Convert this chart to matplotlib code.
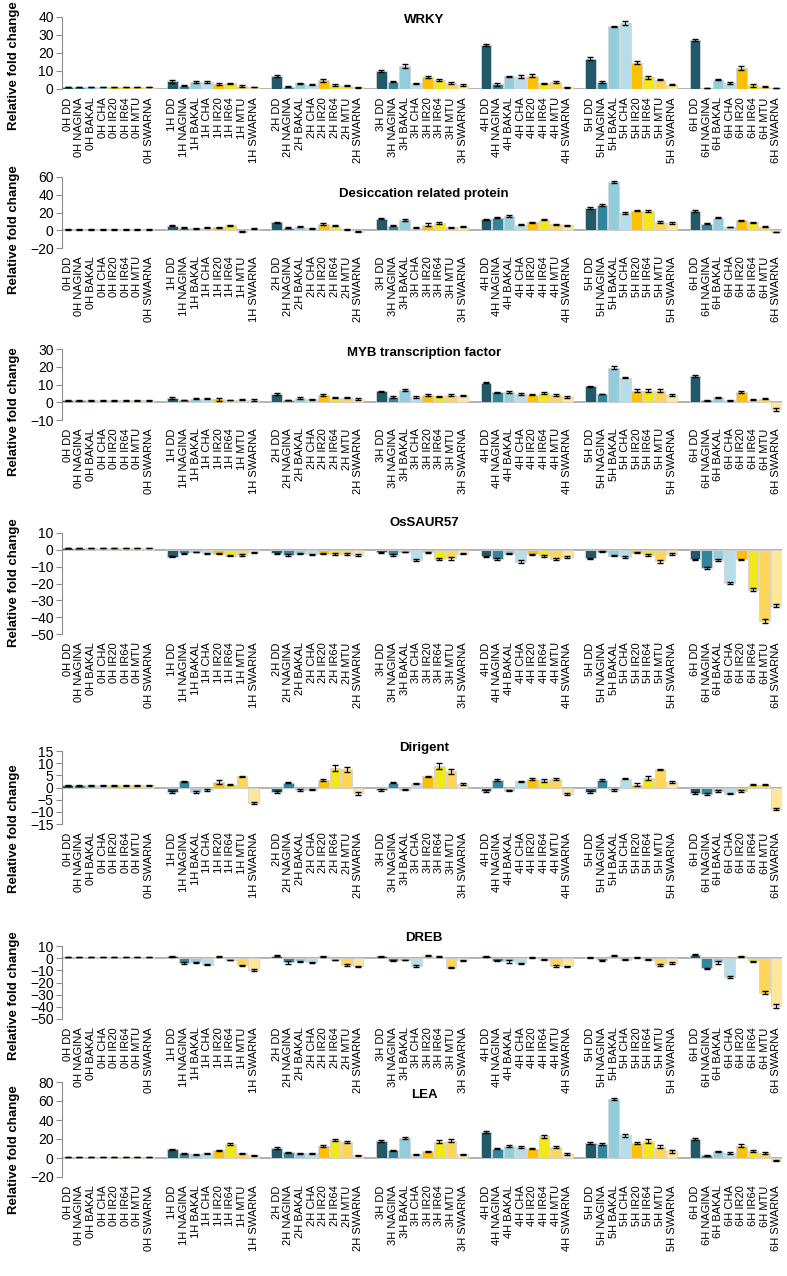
import numpy as np
import matplotlib
matplotlib.use("Agg")
import matplotlib.pyplot as plt

plt.rcParams['font.family'] = ['Liberation Sans', 'DejaVu Sans']

## categories
hours = ['0H', '1H', '2H', '3H', '4H', '5H', '6H']
lines = ['DD', 'NAGINA', 'BAKAL', 'CHA', 'IR20', 'IR64', 'MTU', 'SWARNA']
line_colors = ['#215968', '#31859c', '#92cddc', '#b7dee8',
               '#ffc000', '#f3e619', '#ffd557', '#ffe699']

## values, ordered 0H DD .. 0H SWARNA, 1H DD .. , 6H SWARNA
wrky = [1, 1, 1, 1, 1, 1, 1, 1,
        4.4, 1.9, 3.9, 3.9, 2.8, 3.3, 1.5, 1.1,
        7.2, 1.3, 3.1, 2.4, 4.8, 2.4, 1.9, 0.9,
        10, 4, 12.6, 3.2, 6.5, 5, 3.3, 2,
        24.3, 2.6, 7.2, 6.9, 7.4, 3.1, 4, 0.9,
        16.9, 3.9, 34.8, 36.7, 14.6, 6.5, 5.2, 2.4,
        27.2, 0.7, 5.2, 3.3, 11.7, 2, 1.3, 0.4]
wrky_err = [0.1, 0.1, 0.1, 0.1, 0.1, 0.1, 0.1, 0.1,
            0.8, 0.2, 0.3, 0.6, 0.8, 0.3, 0.6, 0.2,
            0.6, 0.2, 0.2, 0.4, 0.9, 0.6, 0.5, 0.2,
            0.8, 0.2, 1.2, 0.3, 0.5, 0.5, 0.4, 0.6,
            0.6, 0.7, 0.3, 0.9, 0.7, 0.3, 0.5, 0.1,
            0.8, 0.7, 0.3, 1.0, 0.8, 0.8, 0.4, 0.2,
            0.7, 0.1, 0.3, 0.5, 1.0, 0.8, 0.4, 0.1]

desic = [1, 1, 1, 1, 1, 1, 1, 1,
         5.2, 3, 2.2, 3, 3.4, 5.6, -1.5, 1.9,
         9, 3, 4, 2.2, 7, 5.2, 1.1, -1.5,
         13, 5.2, 11.6, 2.6, 6.4, 7.9, 3.4, 4.1,
         12.4, 13.9, 16.1, 6.4, 9, 12, 6.7, 5.6,
         25, 28.5, 54.3, 19.5, 22, 21.7, 9.4, 7.9,
         21.7, 7.5, 13.9, 3.7, 11.2, 9, 3.7, -2]
desic_err = [0.3, 0.3, 0.3, 0.3, 0.3, 0.3, 0.3, 0.3,
             0.8, 0.6, 0.6, 0.6, 0.8, 0.8, 0.5, 0.6,
             0.8, 0.6, 0.6, 0.6, 0.9, 0.8, 0.5, 0.5,
             0.8, 0.6, 0.8, 0.5, 1.5, 0.9, 0.6, 0.6,
             0.8, 0.6, 0.8, 0.6, 0.8, 0.8, 0.9, 0.6,
             1.5, 0.8, 1.5, 0.8, 0.8, 1.5, 0.8, 1.2,
             0.8, 0.6, 0.6, 0.5, 0.8, 0.8, 0.6, 0.4]

myb = [1, 1, 1, 1, 1, 1, 1, 1,
       2.3, 1.3, 1.9, 1.9, 1.7, 1.3, 1.5, 1.3,
       4.7, 1.3, 2.3, 1.7, 4, 2.6, 2.6, 1.7,
       6.2, 3, 7, 3, 4, 3.4, 4, 3.8,
       11.1, 5.5, 5.7, 4.7, 4.2, 5.3, 4.3, 2.8,
       8.9, 4.7, 19.4, 13.8, 6.6, 6.6, 6.4, 4.3,
       14.9, 1.1, 2.8, 1.1, 5.8, 1.5, 1.9, -4]
myb_err = [0.2, 0.2, 0.2, 0.2, 0.2, 0.2, 0.2, 0.2,
           0.4, 0.2, 0.3, 0.3, 0.9, 0.2, 0.3, 0.4,
           0.5, 0.2, 0.4, 0.3, 0.4, 0.4, 0.4, 0.6,
           0.4, 0.4, 0.4, 0.6, 0.6, 0.3, 0.4, 0.3,
           0.5, 0.3, 0.7, 0.6, 0.3, 0.5, 0.5, 0.6,
           0.4, 0.2, 0.9, 0.4, 0.8, 0.8, 0.9, 0.6,
           0.5, 0.2, 0.3, 0.2, 0.4, 0.2, 0.3, 0.8]

saur = [1, 1, 1, 1, 1, 1, 1, 1,
        -4.1, -2, -1.2, -2, -2.4, -3.5, -3, -1.4,
        -2, -2.8, -2.2, -2.6, -2.4, -2.4, -2.4, -3.2,
        -1.5, -3, -1.2, -6, -1.4, -5.5, -5.1, -2.2,
        -3.9, -5.3, -2.2, -7.1, -2.6, -3.6, -5.5, -4.5,
        -5.1, -1, -3.4, -4.5, -1.6, -3, -6.9, -2.4,
        -5.5, -10.8, -6.1, -19.9, -5.7, -23.7, -42.4, -33.3]
saur_err = [0.1, 0.1, 0.1, 0.1, 0.1, 0.1, 0.1, 0.1,
            0.4, 0.3, 0.2, 0.3, 0.3, 0.4, 0.6, 0.3,
            0.3, 0.6, 0.5, 0.4, 0.3, 0.5, 0.5, 0.6,
            0.3, 0.5, 0.2, 0.5, 0.3, 0.6, 0.8, 0.5,
            0.3, 0.6, 0.4, 0.8, 0.3, 0.5, 0.4, 0.6,
            0.3, 0.4, 0.3, 0.6, 0.4, 0.6, 0.7, 0.4,
            0.3, 0.8, 0.6, 0.6, 0.3, 1.0, 1.3, 0.9]

dirigent = [1, 1, 1, 1, 1, 1, 1, 1,
            -1.9, 2.5, -1.8, -1, 2.3, 1.2, 4.6, -6.4,
            -1.8, 2, -1, -1, 2.9, 8.1, 7.5, -2.3,
            -1.1, 2, -1, 1.8, 4.6, 8.8, 6.6, 1.4,
            -1.5, 3, -1.4, 2.5, 3.4, 2.9, 3.4, -2.6,
            -1.8, 3.1, -1.1, 3.6, 1.2, 3.8, 7.5, 2.2,
            -2.2, -2.6, -1.4, -2.5, -1.4, 1.1, 1.2, -8.9]
dirigent_err = [0.2, 0.2, 0.2, 0.2, 0.2, 0.2, 0.2, 0.2,
                0.4, 0.2, 0.3, 0.3, 0.8, 0.3, 0.3, 0.3,
                0.5, 0.3, 0.4, 0.2, 0.4, 1.3, 1.0, 0.6,
                0.3, 0.3, 0.2, 0.2, 0.3, 1.3, 1.1, 0.3,
                0.3, 0.3, 0.2, 0.2, 0.4, 0.5, 0.5, 0.4,
                0.3, 0.3, 0.4, 0.3, 0.5, 0.8, 0.3, 0.4,
                0.4, 0.4, 0.3, 0.3, 0.3, 0.2, 0.2, 0.3]

dreb = [1, 1, 1, 1, 1, 1, 1, 1,
        1.6, -3.8, -3.5, -5.4, 1.1, -1.6, -6, -9.5,
        1.9, -3.5, -2.4, -3.3, 1.4, -1.4, -5.7, -6.8,
        1.4, -2.2, -1.6, -6.5, 1.9, 1.1, -7.9, -1.9,
        1.4, -2.2, -2.7, -4.3, 0.8, -1.4, -6.5, -6.8,
        0.8, -1.6, 1.9, -1.1, 0.8, -1.4, -6, -4.1,
        2.7, -8.4, -3.5, -15.2, 1.6, -2.7, -28.3, -39.4]
dreb_err = [0.2, 0.2, 0.2, 0.2, 0.2, 0.2, 0.2, 0.2,
            0.3, 0.8, 0.7, 0.5, 0.3, 0.3, 0.7, 0.9,
            0.3, 0.9, 0.4, 0.4, 0.3, 0.3, 0.9, 0.5,
            0.3, 0.5, 0.3, 0.5, 0.3, 0.3, 0.5, 0.4,
            0.3, 0.4, 0.9, 0.6, 0.3, 0.4, 0.8, 0.6,
            0.3, 0.4, 0.4, 0.4, 0.3, 0.4, 0.8, 0.8,
            0.4, 0.6, 0.9, 0.7, 0.3, 0.4, 1.2, 1.5]

lea = [1, 1, 1, 1, 1, 1, 1, 1,
       9, 5, 4, 5, 8, 15, 5, 3,
       11, 6, 5, 5, 13, 19, 17, 3,
       18, 8, 21, 4, 7, 17, 18, 4,
       27, 10, 13, 12, 10, 23, 12, 4,
       16, 15, 62, 24, 16, 18, 12, 7,
       20, 3, 7, 5, 13, 7, 5, -3]
lea_err = [0.2, 0.2, 0.2, 0.2, 0.2, 0.2, 0.2, 0.2,
           1.0, 0.5, 0.5, 0.5, 0.8, 1.0, 0.5, 0.5,
           1.0, 0.6, 0.6, 0.5, 1.0, 1.0, 1.0, 0.5,
           1.0, 0.6, 1.0, 0.5, 0.8, 1.5, 1.5, 0.5,
           1.0, 0.8, 1.0, 1.0, 1.0, 1.5, 1.0, 0.8,
           1.0, 1.0, 1.0, 1.5, 1.0, 2.0, 1.5, 1.5,
           1.0, 0.5, 0.8, 0.8, 1.5, 1.0, 0.8, 0.5]

titles = ['WRKY', 'Desiccation related protein', 'MYB transcription factor',
          'OsSAUR57', 'Dirigent', 'DREB', 'LEA']
series = [wrky, desic, myb, saur, dirigent, dreb, lea]
errors = [wrky_err, desic_err, myb_err, saur_err, dirigent_err, dreb_err, lea_err]
ylims = [(0, 40), (-20, 60), (-10, 30), (-50, 10), (-15, 15), (-50, 10), (-20, 80)]
ysteps = [10, 20, 10, 10, 5, 10, 20]

# layout in pixels (top, bottom of plot area; title y; y-label centre)
W, H = 787, 1276
boxes = [(17, 89), (177, 248), (349, 420), (533, 634), (751, 824), (946, 1019), (1082, 1177)]
title_y = [20, 194, 353, 523, 748, 938, 1095]
ylab_y = [66, 230, 412, 583, 829, 996, 1150]
x_left, x_right = 62, 782

fig = plt.figure(figsize=(W / 100, H / 100), dpi=100)

# bar positions: 8 bars per hour, one empty slot between hours
pos = []
labels = []
for g, h in enumerate(hours):
    for v, ln in enumerate(lines):
        pos.append(g * 9 + v)
        labels.append(h + ' ' + ln)
pos = np.array(pos)
cols = [line_colors[i % 8] for i in range(len(pos))]

for i in range(len(series)):
    top, bot = boxes[i]
    ax = fig.add_axes([x_left / W, 1 - bot / H, (x_right - x_left) / W, (bot - top) / H])
    ax.bar(pos, series[i], width=0.92, color=cols, edgecolor='#d4d4d4', linewidth=0.6, zorder=2)
    ax.errorbar(pos, series[i], yerr=errors[i], fmt='none', ecolor='black',
                elinewidth=0.8, capsize=2.2, capthick=1.0, zorder=3)
    ax.axhline(0, color='#a6a6a6', lw=1.2, zorder=1)
    ax.set_xlim(-0.5, pos[-1] + 0.5)
    lo, hi = ylims[i]
    ax.set_ylim(lo, hi)
    ax.set_yticks(np.arange(lo, hi + 0.1, ysteps[i]))
    ax.tick_params(axis='y', labelsize=10, direction='out', length=4, color='#8c8c8c', pad=2)
    ax.set_xticks(pos)
    ax.set_xticklabels(labels, rotation=90, fontsize=8, va='top')
    ax.tick_params(axis='x', length=0, pad=6)
    for s in ['top', 'right', 'bottom']:
        ax.spines[s].set_visible(False)
    ax.spines['left'].set_color('#8c8c8c')
    ax.patch.set_alpha(0)
    fig.text(424 / W, 1 - title_y[i] / H, titles[i], ha='center', va='center',
             fontsize=9.5, fontweight='bold')
    fig.text(14 / W, 1 - ylab_y[i] / H, 'Relative fold change', rotation=90,
             ha='center', va='center', fontsize=9.5, fontweight='bold')

fig.savefig('out.png', dpi=100)
